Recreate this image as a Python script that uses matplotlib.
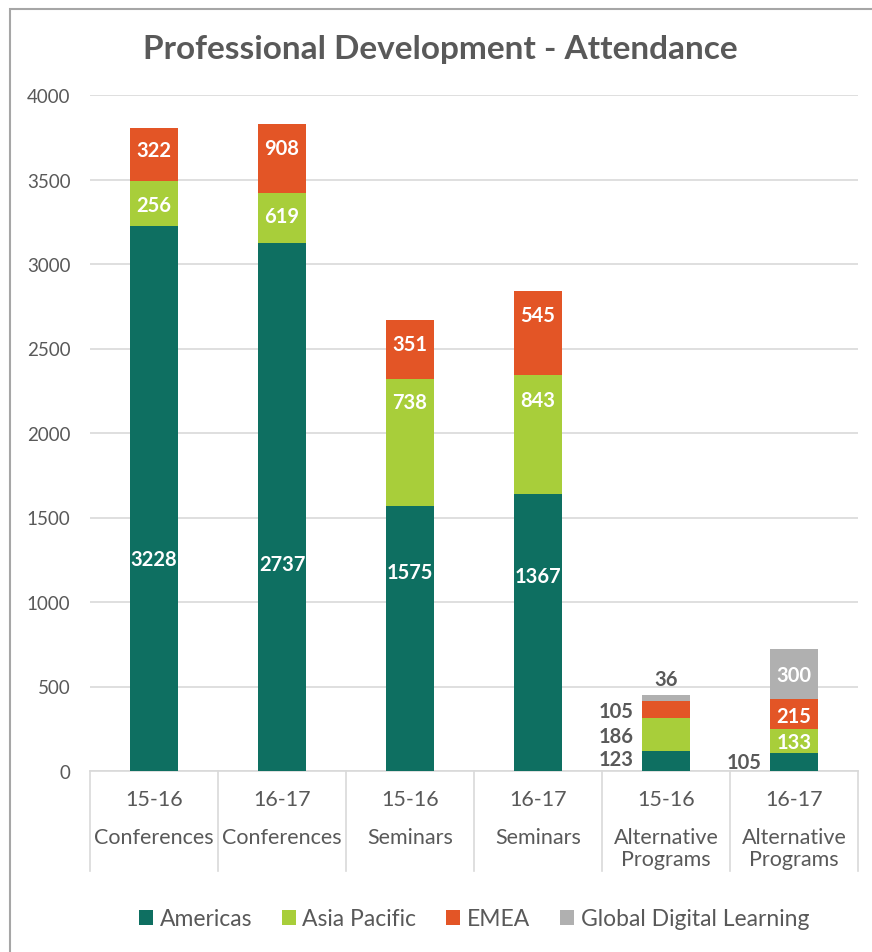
import matplotlib.pyplot as plt
import numpy as np
from matplotlib.patches import Patch, Rectangle
import matplotlib.transforms as mtransforms

plt.rcParams['font.family'] = ['Lato', 'DejaVu Sans']

# 数据
years = ['15-16', '16-17', '15-16', '16-17', '15-16', '16-17']
programs = ['Conferences', 'Conferences', 'Seminars', 'Seminars',
            'Alternative\nPrograms', 'Alternative\nPrograms']
series = ['Americas', 'Asia Pacific', 'EMEA', 'Global Digital Learning']

# bar heights as drawn
americas = [3226, 3124, 1570, 1639, 118, 106]
asia_pacific = [263, 296, 751, 704, 196, 141]
emea = [317, 408, 350, 499, 102, 179]
global_digital = [0, 0, 0, 0, 34, 296]

# numbers printed on the segments
americas_lbl = [3228, 2737, 1575, 1367, 123, 105]
asia_pacific_lbl = [256, 619, 738, 843, 186, 133]
emea_lbl = [322, 908, 351, 545, 105, 215]
global_digital_lbl = [None, None, None, None, 36, 300]

# where each printed number sits (value units)
americas_lbl_y = [1254, 1225, 1178, 1154, 71, 53]
asia_pacific_lbl_y = [3351, 3284, 2183, 2197, 209, 173]
emea_lbl_y = [3675, 3686, 2527, 2700, 357, 325]
global_digital_lbl_y = [None, None, None, None, 544, 568]

# 颜色设置
colors = ['#0E6F61', '#A8CE3A', '#E35526', '#B0B0B0']
txt = '#595959'
grid = '#D9D9D9'

fig = plt.figure(figsize=(8.72, 9.53), dpi=100)
ax = fig.add_axes([90 / 872, 1 - 772 / 953, 768 / 872, 676 / 953])

# frame of the chart area
fig.patches.append(Rectangle((10 / 872, -0.1), 1.2, 1 - 10 / 953 + 0.1, transform=fig.transFigure,
                             fill=False, edgecolor='#A6A6A6', linewidth=1.5))

x = np.arange(len(years))
w = 0.38
heights = [americas, asia_pacific, emea, global_digital]
labels = [americas_lbl, asia_pacific_lbl, emea_lbl, global_digital_lbl]
label_y = [americas_lbl_y, asia_pacific_lbl_y, emea_lbl_y, global_digital_lbl_y]

bottom = np.zeros(len(years))
for h, c, name in zip(heights, colors, series):
    ax.bar(x, h, w, bottom=bottom, color=c, label=name, zorder=3)
    bottom += np.array(h)

# 数据标签
for s in range(4):
    for i in range(len(years)):
        v = labels[s][i]
        if v is None:
            continue
        y = label_y[s][i]
        if (i == 4 and s < 3) or (i == 5 and s == 0):
            ax.text(x[i] - w / 2 - 0.06, y, str(v), ha='right', va='center',
                    color=txt, fontsize=14.5, fontweight='bold', zorder=4)
        elif i == 4 and s == 3:
            ax.text(x[i], y, str(v), ha='center', va='center',
                    color=txt, fontsize=14.5, fontweight='bold', zorder=4)
        else:
            ax.text(x[i], y, str(v), ha='center', va='center',
                    color='white', fontsize=14.5, fontweight='bold', zorder=4)

ax.set_ylim(0, 4000)
ax.set_xlim(-0.5, len(years) - 0.5)
ax.set_yticks(np.arange(0, 4001, 500))
ax.yaxis.grid(True, color=grid, linewidth=1.2, zorder=0)
ax.tick_params(axis='y', length=0, labelsize=13.5, labelcolor=txt, pad=14)
ax.tick_params(axis='x', length=0)
ax.set_xticks([])
for sp in ['top', 'right', 'left']:
    ax.spines[sp].set_visible(False)
ax.spines['bottom'].set_color(grid)
ax.spines['bottom'].set_linewidth(1.2)

# 多级分类标签
trans = mtransforms.blended_transform_factory(ax.transData, ax.transAxes)
for i in range(len(years)):
    ax.text(x[i], -28 / 676, years[i], transform=trans, ha='center', va='center',
            fontsize=15.5, color=txt)
    ax.text(x[i], -56 / 676, programs[i], transform=trans, ha='center', va='top',
            fontsize=15.5, color=txt, linespacing=1.15)
for b in np.arange(-0.5, len(years), 1.0):
    ax.plot([b, b], [0, -100 / 676], transform=trans, color=grid, linewidth=1.2, clip_on=False)

fig.text(440 / 872, 1 - 50 / 953, 'Professional Development - Attendance', ha='center', va='center',
         fontsize=24, fontweight='bold', color=txt)

handles = [Patch(facecolor=c, label=n) for c, n in zip(colors, series)]
fig.legend(handles=handles, loc='center', bbox_to_anchor=(474 / 872, 1 - 920 / 953), ncol=4,
           frameon=False, fontsize=16.5, labelcolor=txt, handlelength=0.6, handleheight=0.6,
           handletextpad=0.3, columnspacing=1.3)

fig.savefig('out.png', dpi=100)
